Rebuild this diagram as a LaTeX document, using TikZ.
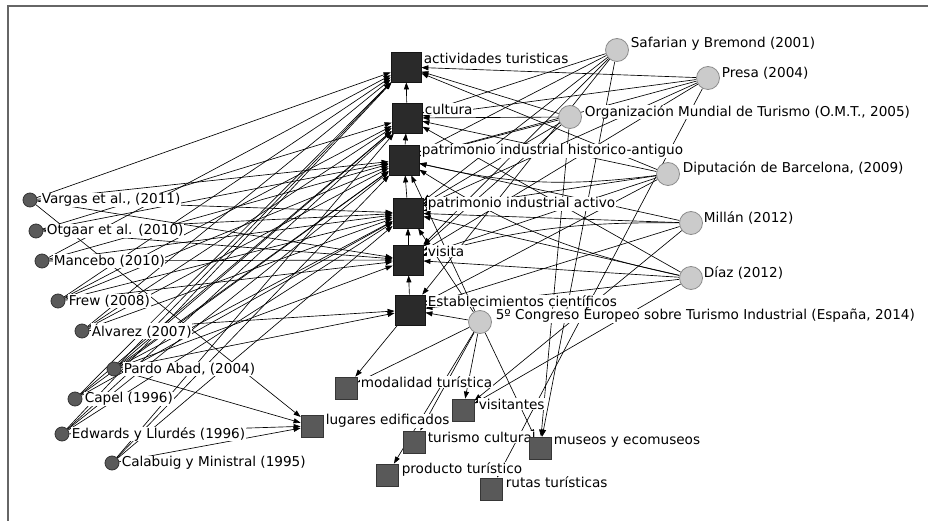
\documentclass[tikz,border=0pt]{standalone}
\usepackage{fontspec}
\setmainfont{DejaVu Sans}
\usetikzlibrary{arrows.meta}
\pgfdeclarelayer{edges}
\pgfdeclarelayer{labels}
\pgfsetlayers{edges,labels,main}
\definecolor{bigsqfill}{HTML}{2A2A2A}
\definecolor{bigsqline}{HTML}{151515}
\definecolor{smsqfill}{HTML}{595959}
\definecolor{smsqline}{HTML}{363636}
\definecolor{lcfill}{HTML}{5A5A5A}
\definecolor{lcline}{HTML}{333333}
\definecolor{rcfill}{HTML}{CBCBCB}
\definecolor{rcline}{HTML}{8C8C8C}
\definecolor{framecol}{HTML}{666666}
\tikzset{
  bigsq/.style={rectangle, fill=bigsqfill, draw=bigsqline, line width=0.8pt, minimum size=30pt, inner sep=0pt},
  smsq/.style={rectangle, fill=smsqfill, draw=smsqline, line width=0.8pt, minimum size=22pt, inner sep=0pt},
  lcirc/.style={circle, fill=lcfill, draw=lcline, line width=0.8pt, minimum size=14pt, inner sep=0pt},
  rcirc/.style={circle, fill=rcfill, draw=rcline, line width=0.8pt, minimum size=23pt, inner sep=0pt},
  lbl/.style={anchor=west, fill=white, inner sep=0.6pt, text=black, font=\fontsize{13.6}{15}\selectfont},
  arr/.style={draw=black, line width=0.65pt, -{Triangle[length=7pt,width=5pt]}},
}
\begin{document}
\begin{tikzpicture}[x=1pt,y=-1pt]
\useasboundingbox (0,0) rectangle (928,521);
\draw[framecol, line width=1.8pt] (928,6) -- (8,6) -- (8,521);

% big squares
\node[bigsq] (A) at (406,67) {};
\node[bigsq] (C) at (407,118) {};
\node[bigsq] (H) at (404,160) {};
\node[bigsq] (P) at (408,213) {};
\node[bigsq] (V) at (408,260) {};
\node[bigsq] (E) at (410,310) {};
% small squares
\node[smsq] (MOD) at (346,388) {};
\node[smsq] (LUG) at (312,426) {};
\node[smsq] (VIS) at (463,410) {};
\node[smsq] (TUR) at (414,442) {};
\node[smsq] (PRO) at (387,475) {};
\node[smsq] (MUS) at (540,448) {};
\node[smsq] (RUT) at (491,489) {};
% left circles
\node[lcirc] (VAR) at (30,200) {};
\node[lcirc] (OTG) at (36,231) {};
\node[lcirc] (MAN) at (42,261) {};
\node[lcirc] (FRE) at (58,301) {};
\node[lcirc] (ALV) at (82,331) {};
\node[lcirc] (PAR) at (114,369) {};
\node[lcirc] (CAP) at (75,399) {};
\node[lcirc] (EDW) at (62,434) {};
\node[lcirc] (CAL) at (112,463) {};
% right circles
\node[rcirc] (SAF) at (617,50) {};
\node[rcirc] (PRE) at (708,78) {};
\node[rcirc] (OMT) at (570,117) {};
\node[rcirc] (DIP) at (668,174) {};
\node[rcirc] (MIL) at (691,223) {};
\node[rcirc] (DIA) at (691,278) {};
\node[rcirc] (CON) at (480,322) {};

\begin{pgfonlayer}{labels}
\node[lbl] (A-l) at (423,58) {actividades turisticas};
\node[lbl] (C-l) at (424,109) {cultura};
\node[lbl] (H-l) at (421,151) {patrimonio industrial historico-antiguo};
\node[lbl] (P-l) at (427,204) {patrimonio industrial activo};
\node[lbl] (V-l) at (427,251) {visita};
\node[lbl] (E-l) at (427,301) {Establecimientos científicos};
\node[lbl] (MOD-l) at (360,382) {modalidad turística};
\node[lbl] (LUG-l) at (325,421) {lugares edificados};
\node[lbl] (VIS-l) at (478,404) {visitantes};
\node[lbl] (TUR-l) at (427,437) {turismo cultural};
\node[lbl] (PRO-l) at (401,469) {producto turístico};
\node[lbl] (MUS-l) at (553,442) {museos y ecomuseos};
\node[lbl] (RUT-l) at (505,482) {rutas turísticas};
\node[lbl] (VAR-l) at (41,200) {Vargas et al., (2011)};
\node[lbl] (OTG-l) at (46,231) {Otgaar et al. (2010)};
\node[lbl] (MAN-l) at (53,261) {Mancebo (2010)};
\node[lbl] (FRE-l) at (68,301) {Frew (2008)};
\node[lbl] (ALV-l) at (91,331) {Álvarez (2007)};
\node[lbl] (PAR-l) at (123,369) {Pardo Abad, (2004)};
\node[lbl] (CAP-l) at (84,399) {Capel (1996)};
\node[lbl] (EDW-l) at (71,434) {Edwards y Llurdés (1996)};
\node[lbl] (CAL-l) at (121,463) {Calabuig y Ministral (1995)};
\node[lbl] (SAF-l) at (630,44) {Safarian y Bremond (2001)};
\node[lbl] (PRE-l) at (721,73) {Presa (2004)};
\node[lbl] (OMT-l) at (584,112) {Organización Mundial de Turismo (O.M.T., 2005)};
\node[lbl] (DIP-l) at (682,168) {Diputación de Barcelona, (2009)};
\node[lbl] (MIL-l) at (703,218) {Millán (2012)};
\node[lbl] (DIA-l) at (703,273) {Díaz (2012)};
\node[lbl] (CON-l) at (495,316) {5º Congreso Europeo sobre Turismo Industrial (España, 2014)};
\end{pgfonlayer}

\begin{pgfonlayer}{edges}
\foreach \s/\t in {
  VAR/A, VAR/H, VAR/P, VAR/V, VAR/LUG,
  OTG/C, OTG/H, OTG/P, OTG/V,
  MAN/A, MAN/H, MAN/P, MAN/V,
  FRE/A, FRE/C, FRE/H, FRE/P, FRE/V,
  ALV/A, ALV/C, ALV/H, ALV/P, ALV/E,
  PAR/A, PAR/C, PAR/H, PAR/P, PAR/V, PAR/E, PAR/LUG,
  CAP/A, CAP/C, CAP/H, CAP/P,
  EDW/A, EDW/C, EDW/H, EDW/P, EDW/LUG,
  CAL/C, CAL/H, CAL/P, CAL/LUG,
  SAF/C, SAF/H, SAF/P, SAF/V, SAF/E, SAF/MUS,
  PRE/A, PRE/C, PRE/H, PRE/P, PRE/V, PRE/RUT,
  OMT/C, OMT/A, OMT/H, OMT/P, OMT/V, OMT/MUS,
  DIP/A, DIP/C, DIP/P, DIP/V, DIP/E,
  MIL/P, MIL/H, MIL/E, MIL/VIS,
  DIA/V, DIA/P, DIA/C, DIA/E, DIA/VIS,
  CON/MOD, CON/VIS, CON/TUR, CON/MUS, CON/P, CON/H, CON/E, CON/PRO,
  C/A, H/C, P/H, V/P, E/V, E/MOD}
  \draw[arr] (\s) -- (\t);
\draw[arr] (DIP) to[bend left=10] (H);
\draw[arr] (MIL) to[bend right=8] (V);
\draw[arr] (DIA) to[bend left=10] (H);
\end{pgfonlayer}
\end{tikzpicture}
\end{document}
